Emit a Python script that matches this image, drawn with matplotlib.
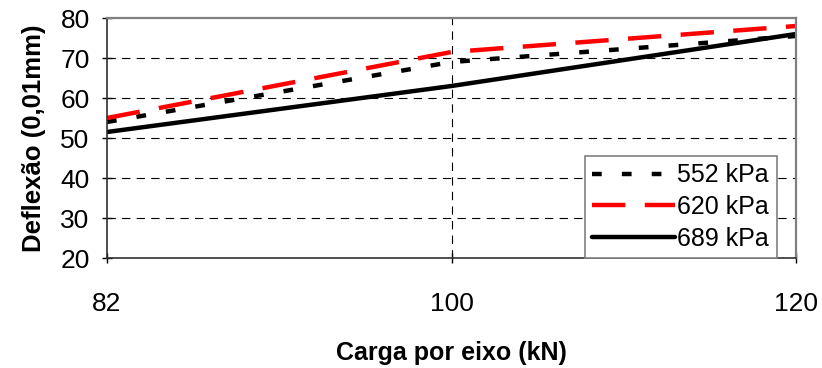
import matplotlib
matplotlib.use("Agg")
import matplotlib.pyplot as plt

plt.rcParams['font.family'] = ['Liberation Sans', 'DejaVu Sans']
plt.rcParams['lines.scale_dashes'] = False

# Axle load categories (kN) and deflection per tyre pressure (0,01 mm)
cargas = ["82", "100", "120"]
defl_552 = [54.0, 69.0, 75.5]
defl_620 = [55.0, 71.5, 78.0]
defl_689 = [51.5, 63.0, 76.0]
series_labels = ["552 kPa", "620 kPa", "689 kPa"]
y_ticks = [20, 30, 40, 50, 60, 70, 80]

fig = plt.figure(figsize=(8.22, 3.68), dpi=100)
ax = fig.add_axes([107 / 822, 1 - 258 / 368, (796 - 107) / 822, (258 - 18) / 368])

xpos = list(range(len(cargas)))

ax.plot(xpos, defl_552, color="black", lw=3.2, dashes=(7, 14.5),
        solid_capstyle="butt", dash_capstyle="butt", label=series_labels[0])
ax.plot(xpos, defl_620, color="#ff0000", lw=3.2, dashes=(24, 14),
        dash_capstyle="butt", label=series_labels[1])
ax.plot(xpos, defl_689, color="black", lw=3.2, solid_capstyle="round",
        label=series_labels[2])

ax.set_xlim(0, len(cargas) - 1)
ax.set_ylim(20, 80)
ax.set_xticks(xpos)
ax.set_xticklabels(cargas)
ax.set_yticks(y_ticks)

# Dashed gridlines
for yv in y_ticks[1:-1]:
    ax.axhline(yv, color="black", lw=0.8, dashes=(6, 4.5), zorder=0.5)
ax.axvline(1, color="black", lw=0.8, dashes=(6, 4.5), zorder=0.5)

ax.tick_params(axis="both", direction="inout", length=7, width=1,
               labelsize=19, colors="black")
ax.tick_params(axis="x", pad=21)
ax.tick_params(axis="y", pad=9)

for side in ("top", "right"):
    ax.spines[side].set_color("#808080")
    ax.spines[side].set_linewidth(1.6)
for side in ("left", "bottom"):
    ax.spines[side].set_color("#303030")
    ax.spines[side].set_linewidth(1.2)

ax.set_xlabel("Carga por eixo (kN)", fontsize=18, fontweight="bold", labelpad=18)
ax.set_ylabel("Deflexão (0,01mm)", fontsize=18.5, fontweight="bold", labelpad=10)

leg = ax.legend(loc="lower right", bbox_to_anchor=(0.972, 0.0), borderaxespad=0,
                fontsize=18, fancybox=False, framealpha=1, edgecolor="#808080",
                handlelength=3.3, handletextpad=0.1, labelspacing=0.3,
                borderpad=0.3)
leg.get_frame().set_linewidth(1.2)

fig.savefig("out.png", dpi=100)
